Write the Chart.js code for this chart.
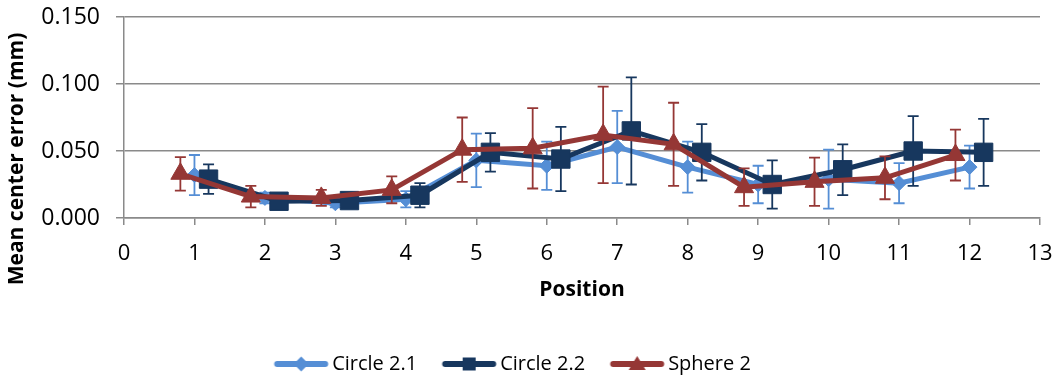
<!DOCTYPE html>
<html>
<head>
<meta charset="utf-8">
<script src="https://cdn.jsdelivr.net/npm/chart.js@4.4.1/dist/chart.umd.min.js"></script>
<style>
  html, body { margin: 0; padding: 0; background: #ffffff; }
  #wrap { width: 1060px; height: 376px; }
</style>
</head>
<body>
<div id="wrap"><canvas id="chart" width="1060" height="376"></canvas></div>
<script>
// ---------- data ----------
const positions = [1, 2, 3, 4, 5, 6, 7, 8, 9, 10, 11, 12];
const xTickValues = [0, 1, 2, 3, 4, 5, 6, 7, 8, 9, 10, 11, 12, 13];
const yTickValues = [0, 0.05, 0.10, 0.15];

const seriesNames = ['Circle 2.1', 'Circle 2.2', 'Sphere 2'];

const circle21Mean = [0.032, 0.015, 0.011, 0.014, 0.043, 0.039, 0.053, 0.038, 0.025, 0.029, 0.026, 0.038];
const circle21Err  = [0.015, 0.004, 0.003, 0.006, 0.020, 0.018, 0.027, 0.019, 0.014, 0.022, 0.015, 0.016];

const circle22Mean = [0.029, 0.0125, 0.013, 0.017, 0.049, 0.044, 0.065, 0.049, 0.025, 0.036, 0.050, 0.049];
const circle22Err  = [0.011, 0.003, 0.003, 0.009, 0.0144, 0.024, 0.040, 0.021, 0.018, 0.019, 0.026, 0.025];

const sphere2Mean  = [0.033, 0.016, 0.015, 0.021, 0.051, 0.052, 0.062, 0.055, 0.023, 0.027, 0.030, 0.047];
const sphere2Err   = [0.0125, 0.008, 0.006, 0.010, 0.024, 0.030, 0.036, 0.031, 0.014, 0.018, 0.016, 0.019];

const xTitle = 'Position';
const yTitle = 'Mean center error (mm)';

// ---------- styling ----------
const FONT = '"Open Sans", "DejaVu Sans", sans-serif';
const GRID = '#8a8a8a';
const COLORS = ['#558ed5', '#17375e', '#953735'];
const MARKERS = ['rectRot', 'rect', 'triangle'];
const MARKER_R = [7.5, 13, 11];
const X_SHIFT = [0, 0.2, -0.2];     // side-by-side offset of the three series
const DRAW_ORDER = [3, 2, 1];        // Sphere 2 on top, as in the reference

const means = [circle21Mean, circle22Mean, sphere2Mean];
const errs = [circle21Err, circle22Err, sphere2Err];

function legendIcon(i) {
  const c = document.createElement('canvas');
  c.width = 80; c.height = 24;
  const g = c.getContext('2d');
  g.strokeStyle = COLORS[i];
  g.fillStyle = COLORS[i];
  g.lineWidth = 6;
  g.lineCap = 'round';
  g.beginPath(); g.moveTo(22.5, 12); g.lineTo(70.5, 12); g.stroke();
  const cx = 46.5, cy = 12;
  g.beginPath();
  if (i === 0) {
    g.moveTo(cx - 7.5, cy); g.lineTo(cx, cy - 7.5); g.lineTo(cx + 7.5, cy); g.lineTo(cx, cy + 7.5);
  } else if (i === 1) {
    g.rect(cx - 6.5, cy - 6.5, 13, 13);
  } else {
    g.moveTo(cx, cy - 8); g.lineTo(cx + 8.5, cy + 6); g.lineTo(cx - 8.5, cy + 6);
  }
  g.closePath(); g.fill();
  return c;
}
const legendIcons = [0, 1, 2].map(legendIcon);

const datasets = seriesNames.map((name, i) => ({
  label: name,
  data: positions.map((p, k) => ({ x: p + X_SHIFT[i], y: means[i][k] })),
  errors: errs[i],
  borderColor: COLORS[i],
  backgroundColor: COLORS[i],
  pointBackgroundColor: COLORS[i],
  pointBorderColor: COLORS[i],
  borderWidth: 5,
  pointStyle: MARKERS[i],
  pointRadius: MARKER_R[i],
  pointHoverRadius: MARKER_R[i],
  pointBorderWidth: 1,
  tension: 0,
  fill: false,
  order: DRAW_ORDER[i]
}));

// error bars, drawn just beneath each series' own line & markers
const errorBarPlugin = {
  id: 'errorBars',
  beforeDatasetDraw(chart, args) {
    const ds = chart.data.datasets[args.index];
    if (!ds.errors) return;
    const xs = chart.scales.x, ys = chart.scales.y, ctx = chart.ctx;
    ctx.save();
    ctx.strokeStyle = ds.borderColor;
    ctx.lineWidth = 1.8;
    ds.data.forEach((d, k) => {
      const e = ds.errors[k];
      const px = xs.getPixelForValue(d.x);
      const top = ys.getPixelForValue(d.y + e);
      const bot = ys.getPixelForValue(d.y - e);
      ctx.beginPath();
      ctx.moveTo(px, top); ctx.lineTo(px, bot);
      ctx.moveTo(px - 5.5, top); ctx.lineTo(px + 5.5, top);
      ctx.moveTo(px - 5.5, bot); ctx.lineTo(px + 5.5, bot);
      ctx.stroke();
    });
    ctx.restore();
  }
};

const yTitlePlugin = {
  id: 'yTitle',
  afterDraw(chart) {
    const ctx = chart.ctx;
    ctx.save();
    ctx.translate(17, 159);
    ctx.rotate(-Math.PI / 2);
    ctx.font = 'bold 21px ' + FONT;
    ctx.fillStyle = '#000000';
    ctx.textAlign = 'center';
    ctx.textBaseline = 'middle';
    ctx.fillText(yTitle, 0, 0);
    ctx.restore();
  }
};

new Chart(document.getElementById('chart'), {
  type: 'line',
  data: { datasets },
  plugins: [errorBarPlugin, yTitlePlugin],
  options: {
    responsive: false,
    devicePixelRatio: 1,
    animation: false,
    layout: { padding: { top: 17, right: 20, left: -22, bottom: -8 } },
    plugins: {
      tooltip: { enabled: false },
      legend: {
        position: 'bottom',
        labels: {
          usePointStyle: true,
          pointStyleWidth: 55,
          padding: 18,
          color: '#000000',
          font: { family: FONT, size: 20 },
          generateLabels(chart) {
            return chart.data.datasets.map((ds, i) => ({
              text: ds.label,
              pointStyle: legendIcons[i],
              fillStyle: ds.borderColor,
              strokeStyle: ds.borderColor,
              lineWidth: 0,
              fontColor: '#000000',
              hidden: !chart.isDatasetVisible(i),
              datasetIndex: i
            }));
          }
        }
      }
    },
    scales: {
      x: {
        type: 'linear',
        min: 0,
        max: 13,
        afterBuildTicks(scale) { scale.ticks = xTickValues.map(v => ({ value: v })); },
        afterFit(scale) {
          scale.height = 118;
          scale.paddingLeft = 0;
          scale.paddingRight = 0;
        },
        ticks: {
          color: '#000000',
          font: { family: FONT, size: 22 },
          padding: 16,
          maxRotation: 0,
          autoSkip: false,
          callback: v => String(v)
        },
        grid: {
          display: true,
          drawOnChartArea: false,
          drawTicks: true,
          tickLength: 7,
          color: GRID,
          lineWidth: 1.5
        },
        border: { display: true, color: GRID, width: 1.5 },
        title: {
          display: true,
          text: xTitle,
          color: '#000000',
          font: { family: FONT, size: 21, weight: 'bold' },
          padding: { top: 0, bottom: 33 }
        }
      },
      y: {
        type: 'linear',
        min: 0,
        max: 0.15,
        afterBuildTicks(scale) { scale.ticks = yTickValues.map(v => ({ value: v })); },
        afterFit(scale) {
          scale.width = 146;
          scale.paddingTop = 0;
          scale.paddingBottom = 0;
        },
        ticks: {
          color: '#000000',
          font: { family: FONT, size: 23 },
          padding: 16,
          callback: v => Number(v).toFixed(3)
        },
        grid: {
          color: GRID,
          lineWidth: 1.5,
          drawTicks: true,
          tickLength: 8
        },
        border: { display: true, color: GRID, width: 1.5 },
        title: { display: false }
      }
    }
  }
});
</script>
</body>
</html>
